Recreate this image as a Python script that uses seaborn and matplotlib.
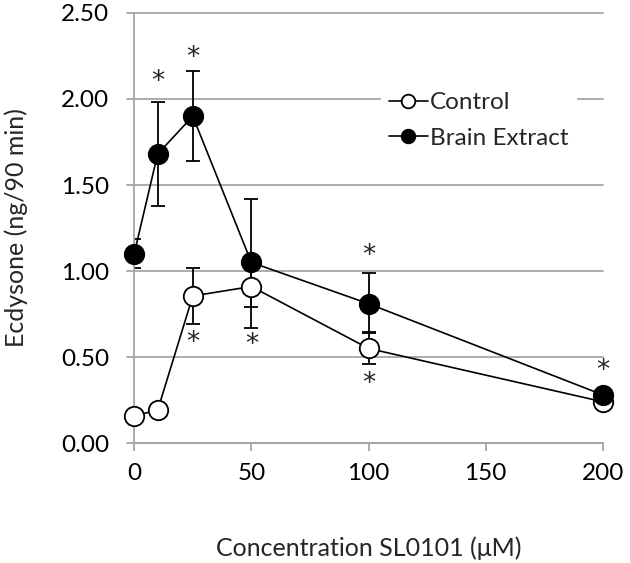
import matplotlib
matplotlib.use("Agg")
import matplotlib.pyplot as plt
import seaborn as sns
import pandas as pd

# concentrations (uM)
conc = [0, 10, 25, 50, 100, 200]

# ecdysone (ng/90 min)
control = [0.16, 0.19, 0.855, 0.91, 0.55, 0.24]
control_err_lo = [0.0, 0.0, 0.165, 0.24, 0.09, 0.02]
control_err_hi = [0.0, 0.0, 0.165, 0.10, 0.09, 0.02]

brain = [1.10, 1.68, 1.90, 1.05, 0.81, 0.28]
brain_err_lo = [0.085, 0.30, 0.26, 0.26, 0.165, 0.02]
brain_err_hi = [0.085, 0.30, 0.26, 0.37, 0.18, 0.02]

# significance stars
star_x = [10, 25, 25, 50, 100, 100, 200]
star_y = [2.10, 2.24, 0.58, 0.57, 1.09, 0.345, 0.42]

x_ticks = [0, 50, 100, 150, 200]
y_ticks = [0.0, 0.5, 1.0, 1.5, 2.0, 2.5]

sns.set_style("white")
plt.rcParams['font.family'] = ['Lato', 'DejaVu Sans']

df = pd.DataFrame({
    'conc': conc * 2,
    'value': control + brain,
    'group': ['Control'] * len(conc) + ['Brain Extract'] * len(conc),
})

fig = plt.figure(figsize=(6.3, 5.63), dpi=100)
ax = fig.add_axes([0.213, 0.213, 0.744, 0.764])

grid_c = '#a6a6a6'
for yv in y_ticks:
    ax.axhline(yv, color=grid_c, lw=1.3, zorder=0, xmin=-0.015, clip_on=False)

# error bars
ax.errorbar(conc, control, yerr=[control_err_lo, control_err_hi], fmt='none',
            ecolor='black', elinewidth=1.3, capsize=5, capthick=1.3, zorder=2)
ax.errorbar(conc, brain, yerr=[brain_err_lo, brain_err_hi], fmt='none',
            ecolor='black', elinewidth=1.3, capsize=5, capthick=1.3, zorder=2)

sns.lineplot(data=df[df.group == 'Control'], x='conc', y='value', ax=ax,
             color='black', lw=1.2, marker='o', markersize=14,
             markerfacecolor='white', markeredgecolor='black', markeredgewidth=1.3,
             label='Control', zorder=3, clip_on=False)
sns.lineplot(data=df[df.group == 'Brain Extract'], x='conc', y='value', ax=ax,
             color='black', lw=1.2, marker='o', markersize=14,
             markerfacecolor='black', markeredgecolor='black', markeredgewidth=1.3,
             label='Brain Extract', zorder=4, clip_on=False)

for sx, sy in zip(star_x, star_y):
    ax.text(sx, sy, '*', ha='center', va='center', fontsize=19, fontfamily='DejaVu Sans')

ax.set_xlim(0, 200)
ax.set_ylim(0, 2.5)
ax.set_xticks(x_ticks)
ax.set_yticks(y_ticks)
ax.set_yticklabels([f"{v:.2f}" for v in y_ticks])
ax.tick_params(axis='both', labelsize=17.5, colors='black')
ax.tick_params(axis='x', direction='out', length=6, width=1.3, color=grid_c, pad=8, bottom=True)
ax.tick_params(axis='y', direction='out', length=0, pad=18, left=False)

for s in ['top', 'right']:
    ax.spines[s].set_visible(False)
for s in ['left', 'bottom']:
    ax.spines[s].set_color(grid_c)
    ax.spines[s].set_linewidth(1.3)

ax.set_xlabel('Concentration SL0101 (\u03bcM)', fontsize=18, labelpad=38)
ax.set_ylabel('Ecdysone (ng/90 min)', fontsize=18, labelpad=24)

leg = ax.legend(loc='center', bbox_to_anchor=(0.735, 0.75), frameon=True,
                fontsize=17.5, handlelength=1.6, handletextpad=0.1,
                labelspacing=0.6, borderpad=0.3, markerscale=0.7)
leg.get_frame().set_edgecolor('white')
leg.get_frame().set_facecolor('white')
leg.get_frame().set_alpha(1)

fig.savefig('out.png', dpi=100)
